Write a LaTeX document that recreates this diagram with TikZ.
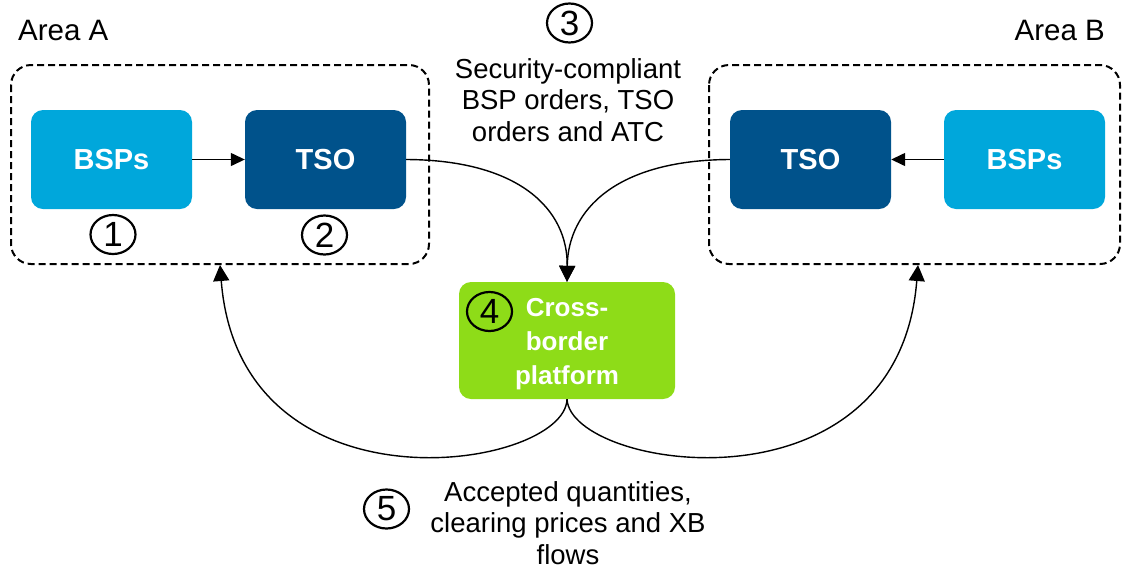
\documentclass[tikz,border=0pt]{standalone}
\usepackage{fontspec}
\setmainfont{Liberation Sans}
\usetikzlibrary{arrows.meta,shapes.geometric}
\definecolor{lblue}{HTML}{00A7DB}
\definecolor{dblue}{HTML}{00528B}
\definecolor{lgreen}{HTML}{8EDC18}
\begin{document}
\begin{tikzpicture}[x=1pt,y=-1pt,
  area/.style={draw=black, line width=2pt, rounded corners=20pt, dash pattern=on 7pt off 4pt},
  boxn/.style={rounded corners=12pt, text=white, font=\fontsize{29}{34}\selectfont\bfseries, align=center, inner sep=0pt},
  lbl/.style={font=\fontsize{27.5}{31.5}\selectfont, align=center, inner sep=0pt},
  circ/.style={ellipse, draw=black, line width=2.2pt, minimum width=45pt, minimum height=39pt, inner sep=0pt, font=\fontsize{35}{35}\selectfont},
  conn/.style={line width=1.4pt, -{Triangle[length=16pt,width=16pt]}},
  sconn/.style={line width=1.4pt, -{Triangle[length=14pt,width=13pt]}}]
\useasboundingbox (0,0) rectangle (1123,571);
% dashed areas
\draw[area] (11,65) rectangle (429,264);
\draw[area] (709,65) rectangle (1120,264);
\coordinate (aA) at (220,265);
\coordinate (aB) at (918,265);
% boxes
\node[boxn, fill=lblue, minimum width=161pt, minimum height=99pt] (bspA) at (111.5,159.5) {BSPs};
\node[boxn, fill=dblue, minimum width=161pt, minimum height=99pt] (tsoA) at (325.5,159.5) {TSO};
\node[boxn, fill=dblue, minimum width=161pt, minimum height=99pt] (tsoB) at (810.5,159.5) {TSO};
\node[boxn, fill=lgreen, minimum width=216pt, minimum height=117pt] (xb) at (567,340.5) {};
\node[boxn, fill=lblue, minimum width=161pt, minimum height=99pt] (bspB) at (1024.5,159.5) {BSPs};
\node[boxn, font=\fontsize{26}{34}\selectfont\bfseries] (xbt) at (567,344) {Cross-\\border\\platform};
% labels
\node[lbl, font=\fontsize{29.5}{32}\selectfont, anchor=west] (areaA) at (18,30) {Area A};
\node[lbl, font=\fontsize{29.5}{32}\selectfont, anchor=east] (areaB) at (1105,30) {Area B};
\node[circ] (c1) at (113,234.5) {1};
\node[circ] (c2) at (324.5,235) {2};
\node[circ] (c3) at (569.5,23) {3};
\node[circ] (c4) at (489.5,311.5) {4};
\node[circ] (c5) at (386.5,509) {5};
\node[lbl] (t3) at (568,100) {Security-compliant\\BSP orders, TSO\\orders and ATC};
\node[lbl] (t5) at (568,523) {Accepted quantities,\\clearing prices and XB\\flows};
% connectors
\draw[sconn] (bspA.east) -- (tsoA.west);
\draw[sconn] (bspB.west) -- (tsoB.east);
\draw[conn] (tsoA.east) .. controls (520,160) and (568,210) .. (xb.north);
\draw[conn] (tsoB.west) .. controls (616,160) and (568,210) .. (xb.north);
\draw[conn] (xb.south) .. controls (565,470) and (240,520) .. (aA);
\draw[conn] (xb.south) .. controls (571,470) and (898,520) .. (aB);
\end{tikzpicture}
\end{document}
